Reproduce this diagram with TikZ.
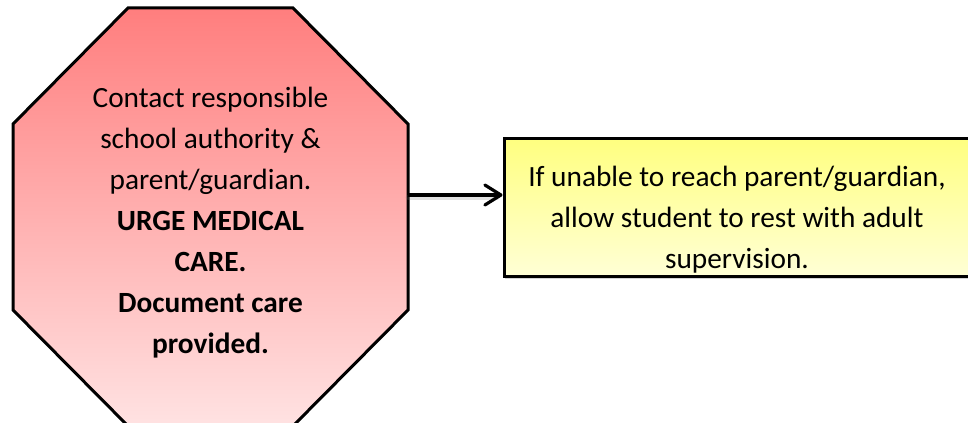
\documentclass[tikz,border=0pt]{standalone}
\usepackage{fontspec}
\setmainfont{Carlito}
\usetikzlibrary{arrows.meta,shadows}
\definecolor{stopTop}{RGB}{255,126,126}
\definecolor{stopBot}{RGB}{255,226,226}
\definecolor{noteTop}{RGB}{255,255,128}
\definecolor{noteBot}{RGB}{255,255,214}
\begin{document}
\begin{tikzpicture}[x=0.75pt,y=-0.75pt,
  bodytext/.style={font=\fontsize{22pt}{30.75pt}\selectfont, align=center, inner sep=0pt},
  stopsign/.style={draw=black, line width=2.25pt, top color=stopTop, bottom color=stopBot},
  notebox/.style={draw=black, line width=2.25pt, top color=noteTop, bottom color=noteBot,
    minimum width=349.5pt, minimum height=103.5pt, inner sep=0pt,
    drop shadow={shadow xshift=0.8pt, shadow yshift=-1.6pt, opacity=0.35}},
  link/.style={line width=2.4pt, -{Straight Barb[length=12pt,width=15pt,line cap=round,line join=round]}},
  linkshade/.style={line width=4pt, gray, opacity=0.12, line cap=round}]
\useasboundingbox (0,0) rectangle (968,423);

% stop-sign octagon
\begin{scope}
  \clip (0,0) rectangle (968,423);
  \draw[stopsign] (128,8) -- (293,8) -- (408,124) -- (408,310) -- (294,425)
    -- (127,425) -- (13,310) -- (13,124) -- cycle;
\end{scope}
\node[bodytext] (stop) at (210.5,223)
  {Contact responsible\\school authority \&\\parent/guardian.\\
   \textbf{URGE MEDICAL}\\\textbf{CARE.}\\\textbf{Document care}\\\textbf{provided.}};
\coordinate (stopE) at (408,195);

% follow-up note
\node[notebox] (note) at (737,208) {};
\node[bodytext] (notetext) at (737,220)
  {If unable to reach parent/guardian,\\allow student to rest with adult\\supervision.};

% connector with a soft shadow beneath
\draw[linkshade] ([yshift=-2pt]stopE) -- ([yshift=-2pt,xshift=-4pt]note.west |- stopE);
\draw[linkshade, line width=2pt] ([yshift=-2.5pt]stopE) -- ([yshift=-2.5pt,xshift=-4pt]note.west |- stopE);
\draw[link] (stopE) -- (note.west |- stopE);
\end{tikzpicture}
\end{document}
